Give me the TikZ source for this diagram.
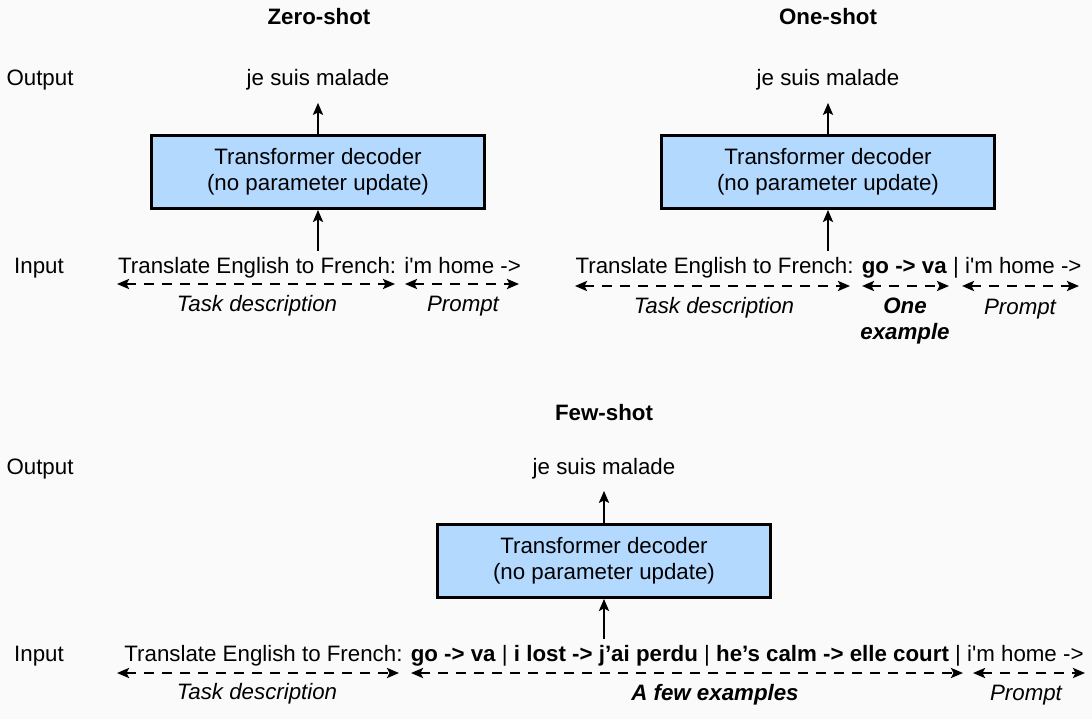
\documentclass[tikz,border=0pt]{standalone}
\usepackage{fontspec}
\setmainfont{Liberation Sans}
\usetikzlibrary{arrows.meta}
\definecolor{bgcol}{HTML}{FAFAFA}
\definecolor{boxblue}{HTML}{B3D9FF}
\begin{document}
\begin{tikzpicture}[x=1pt,y=-1pt,
  txt/.style={font=\fontsize{22.3}{26}\selectfont, inner sep=0pt, anchor=base},
  ttl/.style={txt, font=\fontsize{22.3}{26}\selectfont\bfseries},
  lbl/.style={txt, font=\fontsize{22.3}{26}\selectfont\itshape},
  blbl/.style={txt, font=\fontsize{22.3}{26}\selectfont\bfseries\itshape, align=center},
  decoder/.style={draw, line width=2.8pt, fill=boxblue, minimum width=333pt, minimum height=73pt,
    align=center, inner sep=0pt, font=\fontsize{22.3}{26}\selectfont},
  arr/.style={-{Stealth[length=12pt,width=10pt,inset=2.5pt]}, line width=2.6pt},
  darr/.style={{Stealth[length=12pt,width=10pt,inset=2.5pt]}-{Stealth[length=12pt,width=10pt,inset=2.5pt]}, line width=2.6pt, dash pattern=on 10pt off 8pt},
]
\useasboundingbox (0,0) rectangle (1092,719);
\fill[bgcol] (0,0) rectangle (1092,719);

% ---------- Zero-shot ----------
\node[ttl] (t1) at (319,25) {Zero-shot};
\node[txt] (out1) at (40,86) {Output};
\node[txt] (in1) at (39,273) {Input};
\node[txt] (o1) at (318,86) {je suis malade};
\node[decoder] (b1) at (318,172) {Transformer decoder\\(no parameter update)};
\node[txt] (x1) at (319.5,273) {Translate English to French: i\textquotesingle m home ->};
\draw[arr, shorten >=12pt] (b1.north) -- (o1.south);
\draw[arr, shorten <=6pt] (x1.north -| b1.south) -- (b1.south);
\coordinate (a1s) at (117,284); \coordinate (a1e) at (395,284);
\coordinate (a2s) at (405,284); \coordinate (a2e) at (519,284);
\draw[darr] (a1s) -- (a1e);
\draw[darr] (a2s) -- (a2e);
\node[lbl] (l1) at (257,312) {Task description};
\node[lbl] (l2) at (463,312) {Prompt};

% ---------- One-shot ----------
\node[ttl] (t2) at (828,25) {One-shot};
\node[txt] (o2) at (828,86) {je suis malade};
\node[decoder] (b2) at (828,172) {Transformer decoder\\(no parameter update)};
\node[txt] (x2) at (828.5,273) {Translate English to French: \textbf{go -> va} | i\textquotesingle m home ->};
\draw[arr, shorten >=12pt] (b2.north) -- (o2.south);
\draw[arr, shorten <=6pt] (x2.north -| b2.south) -- (b2.south);
\coordinate (c1s) at (575,286); \coordinate (c1e) at (850,286);
\coordinate (c2s) at (862,286); \coordinate (c2e) at (949,286);
\coordinate (c3s) at (962,286); \coordinate (c3e) at (1079,286);
\draw[darr] (c1s) -- (c1e);
\draw[darr] (c2s) -- (c2e);
\draw[darr] (c3s) -- (c3e);
\node[lbl] (l3) at (714,313) {Task description};
\node[blbl] (l4) at (905,313) {One};
\node[blbl] (l5) at (905,339) {example};
\node[lbl] (l6) at (1020,314) {Prompt};

% ---------- Few-shot ----------
\node[ttl] (t3) at (604,420) {Few-shot};
\node[txt] (out3) at (40,474) {Output};
\node[txt] (in3) at (39,661) {Input};
\node[txt] (o3) at (604,474) {je suis malade};
\node[decoder] (b3) at (604,561) {Transformer decoder\\(no parameter update)};
\node[txt] (x3) at (604,661) {Translate English to French: \textbf{go -> va} | \textbf{i lost -> j’ai perdu} | \textbf{he’s calm -> elle court} | i\textquotesingle m home ->};
\draw[arr, shorten >=12pt] (b3.north) -- (o3.south);
\draw[arr, shorten <=6pt] (x3.north -| b3.south) -- (b3.south);
\coordinate (f1s) at (117,673); \coordinate (f1e) at (399,673);
\coordinate (f2s) at (411,673); \coordinate (f2e) at (963,673);
\coordinate (f3s) at (973,673); \coordinate (f3e) at (1085,673);
\draw[darr] (f1s) -- (f1e);
\draw[darr] (f2s) -- (f2e);
\draw[darr] (f3s) -- (f3e);
\node[lbl] (l7) at (257,699) {Task description};
\node[blbl] (l8) at (715,700) {A few examples};
\node[lbl] (l9) at (1026,700) {Prompt};
\end{tikzpicture}
\end{document}
